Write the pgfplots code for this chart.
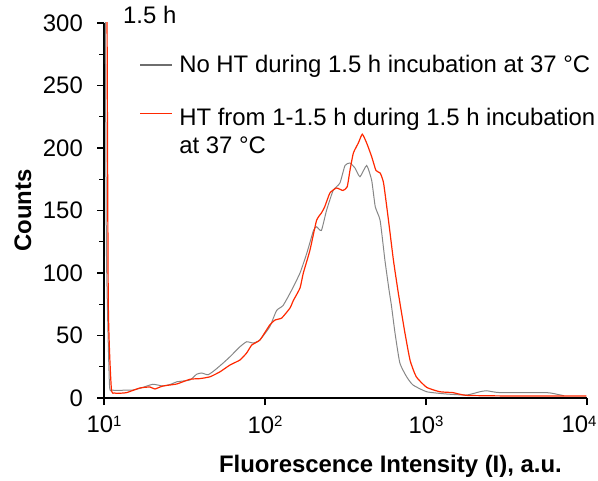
\documentclass[border=0pt]{standalone}
\usepackage{pgfplots}
\pgfplotsset{compat=1.18}
\usepackage{fontspec}
\setmainfont{Liberation Sans}
\definecolor{grayline}{RGB}{135,135,135}
\definecolor{legendgray}{RGB}{110,110,110}
\definecolor{redline}{RGB}{255,40,0}
\newcommand{\tp}[1]{10\raisebox{6.5bp}{\fontsize{15}{15}\selectfont #1}}
\begin{document}
\fontsize{24}{27.6}\selectfont
\begin{tikzpicture}
\begin{axis}[
  name=ax, at={(0,0)}, anchor=south west,
  scale only axis, width=483bp, height=375bp,
  xmode=log, log basis x=10,
  xmin=10, xmax=10000, ymin=0, ymax=300,
  axis x line*=bottom, axis y line*=left,
  axis line style={line width=1.6bp, black},
  tick align=outside,
  major tick length=7bp, minor tick length=5bp,
  every tick/.style={black, line width=1.2bp},
  ytick={0,50,...,300}, minor ytick={25,75,...,275},
  xtick={10,100,1000,10000},
  xticklabels={\tp{1},\tp{2},\tp{3},\tp{4}\hspace*{16bp}},
  /pgf/number format/assume math mode=true,
  tick label style={font=\fontsize{24}{27.6}\selectfont},
  yticklabel style={xshift=-6bp},
  xticklabel style={yshift=-3bp},
  xlabel={\textbf{Fluorescence Intensity (I), a.u.}},
  ylabel={\textbf{Counts}},
  xlabel style={at={(axis description cs:0.593,0)}, anchor=base, yshift=-74bp},
  ylabel style={at={(axis description cs:-0.151,0.5)}, anchor=base},
  legend cell align=left,
  legend image code/.code={},
  legend style={draw=none, fill=none, at={(axis description cs:0.07,0.925)}, anchor=north west,
    cells={anchor=base west},
    nodes={inner sep=2bp}, row sep=28bp, column sep=0pt,
    font=\fontsize{24}{27.6}\selectfont},
  clip=true,
]
\addplot[grayline, line width=1bp, smooth, tension=0.3] coordinates {
(10.12,400) (10.35,120) (10.8,12) (11.2,6.4) (13,6.2) (15.1,6.4) (17,8) (20.1,11)
(23.2,9.6) (26,11) (28.4,13) (34.2,14.4) (37.6,19) (40.4,20) (44.3,18.6) (48.9,22.4)
(55,28) (60.6,33) (69.9,41) (76.9,45) (84.5,44) (92.9,46.4) (107,57) (118,70)
(129.5,74) (146,86) (165,100) (182,116) (200,134) (209,137) (224,134) (241,150)
(265,166) (292,172) (314,186) (337,188) (362,184) (389,177) (428,186) (460,174)
(484,153) (519,142) (556,110) (590,86) (610,74) (642,52) (688,28) (758,17)
(830,10.4) (1010,5) (1340,3.2) (1790,2.4) (2160,5) (2380,5.8) (2880,4.3) (5600,4.3)
(6500,3) (7200,1.8)
};
\addlegendentry{\hspace*{36.3bp}No HT during 1.5 h incubation at 37 °C}
\addplot[redline, line width=1.2bp, smooth, tension=0.3] coordinates {
(10.38,400) (10.63,78) (11.1,8) (11.6,4) (12,3.7) (13.8,4.3) (16.7,8) (19.3,8.8)
(20.7,7.2) (23.2,9.6) (28.3,11.2) (34.2,15) (39.4,15.5) (45.6,17) (52.6,21) (60.6,26.4)
(69.9,30.4) (76.9,36) (82.8,42.4) (93,46.4) (107,58.4) (115.6,62.4) (127,64) (143,72)
(150,78) (165,88) (173,100) (190,118) (209,142) (224,148) (235,153) (253,164)
(278,168) (305,166) (324,169) (337,182) (354,196) (380,204) (402,211) (428,204)
(460,193) (489,182) (519,180) (545,172) (585,142) (628,110) (673,84) (718,62)
(740,52) (797,30) (870,17) (1010,8.5) (1220,5) (1470,4.3) (1790,2.1) (3470,1.6)
(9900,1.6)
};
\addlegendentry{\vtop{\hbox{\hspace*{36.3bp}HT from 1-1.5 h during 1.5 h incubation}\hbox{\hspace*{36.3bp}at 37 °C}}}
\end{axis}
\draw[legendgray, line width=1.5bp] ([shift={(36bp,333bp)}]ax.south west) -- ++(32bp,0);
\draw[redline, line width=1.5bp] ([shift={(36bp,284.7bp)}]ax.south west) -- ++(32bp,0);
\node[anchor=base west, inner sep=0pt] at ([shift={(19bp,374bp)}]ax.south west) {1.5 h};
\pgfresetboundingbox
\path[use as bounding box] ([shift={(-104bp,-83bp)}]ax.south west) rectangle ([shift={(494bp,398bp)}]ax.south west);
\end{tikzpicture}
\end{document}
